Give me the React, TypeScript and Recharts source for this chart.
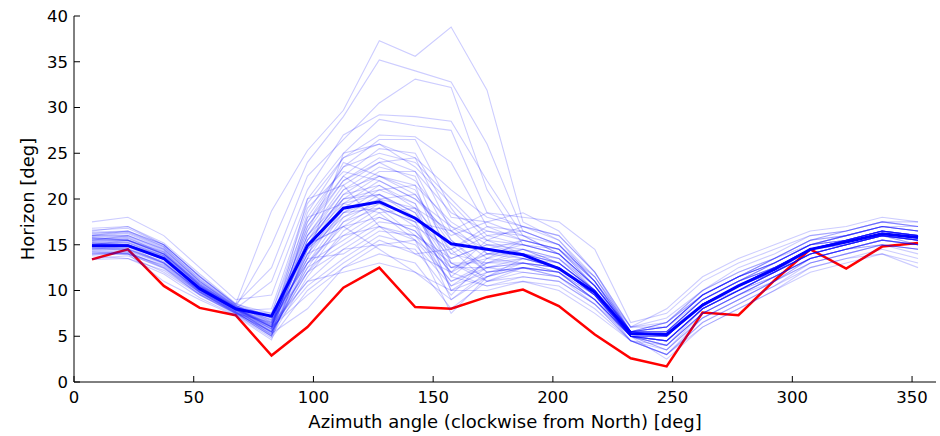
import React from 'react';
import { LineChart, Line, XAxis, YAxis, Label } from 'recharts';

// azimuth bin centres, 15 deg wide
const AZIMUTH = [
  7.5, 22.5, 37.5, 52.5, 67.5, 82.5, 97.5, 112.5, 127.5, 142.5, 157.5, 172.5,
  187.5, 202.5, 217.5, 232.5, 247.5, 262.5, 277.5, 292.5, 307.5, 322.5, 337.5, 352.5,
];

// ensemble mean (thick blue)
const MEAN = [
  14.9, 14.9, 13.5, 10.2, 8.0, 7.2, 14.9, 19.0, 19.7, 17.9, 15.1, 14.5,
  13.9, 12.4, 9.8, 5.3, 5.2, 8.4, 10.5, 12.3, 14.5, 15.3, 16.2, 15.8,
];

// observed horizon (red)
const OBSERVED = [
  13.4, 14.5, 10.5, 8.1, 7.3, 2.9, 6.0, 10.3, 12.5, 8.2, 8.0, 9.3,
  10.1, 8.3, 5.2, 2.6, 1.7, 7.6, 7.3, 11.1, 14.5, 12.4, 14.8, 15.2,
];

// individual members (faint blue)
const ENSEMBLE = [
  [16.0, 16.5, 15.0, 11.5, 8.5, 18.7, 25.3, 29.7, 37.3, 35.6, 38.8, 31.9, 17.5, 15.5, 11.5, 5.5, 6.5, 9.5, 11.5, 13.0, 15.0, 16.0, 17.0, 16.5],
  [15.5, 16.0, 14.5, 11.0, 8.2, 15.0, 24.0, 29.0, 35.2, 34.0, 32.8, 26.0, 16.5, 15.0, 11.0, 5.0, 5.5, 9.0, 11.0, 13.0, 15.0, 15.5, 16.5, 16.0],
  [16.5, 17.0, 15.0, 11.5, 8.5, 12.5, 22.5, 26.5, 30.5, 33.1, 32.2, 21.0, 15.0, 14.0, 10.5, 5.5, 6.0, 9.5, 11.5, 13.5, 15.5, 16.0, 17.0, 16.5],
  [15.0, 15.5, 14.0, 10.5, 8.0, 11.0, 21.0, 27.0, 29.2, 29.0, 28.5, 22.0, 16.0, 14.0, 10.0, 5.0, 5.0, 8.5, 10.5, 12.5, 14.5, 15.5, 16.5, 16.0],
  [17.5, 18.0, 16.0, 12.5, 9.0, 9.5, 20.0, 25.0, 28.7, 28.0, 27.5, 18.5, 17.0, 16.0, 12.0, 6.0, 6.5, 10.0, 12.5, 14.0, 16.0, 16.5, 17.5, 17.5],
  [14.5, 14.5, 13.0, 10.0, 7.8, 8.0, 19.5, 24.5, 27.0, 26.8, 24.0, 17.0, 15.5, 14.5, 10.5, 5.5, 5.0, 8.5, 10.5, 12.0, 14.0, 15.0, 16.0, 15.5],
  [15.8, 15.5, 14.0, 10.5, 8.0, 7.5, 18.0, 23.5, 26.5, 26.5, 19.0, 14.0, 14.5, 13.0, 10.0, 5.0, 4.5, 8.0, 10.0, 12.0, 14.5, 15.5, 16.5, 16.0],
  [14.0, 14.0, 12.5, 9.5, 7.5, 6.5, 17.0, 22.5, 25.5, 25.0, 18.0, 17.5, 18.5, 16.5, 12.0, 6.0, 6.0, 9.0, 11.0, 12.5, 14.5, 15.0, 16.0, 15.0],
  [16.0, 16.0, 14.5, 11.0, 8.2, 7.0, 16.5, 22.0, 24.5, 23.0, 15.5, 12.0, 13.0, 12.0, 9.5, 5.0, 4.0, 7.5, 9.5, 11.5, 13.5, 14.5, 15.5, 15.0],
  [15.2, 15.0, 13.8, 10.2, 8.0, 6.0, 16.0, 21.5, 24.0, 24.5, 21.0, 18.0, 17.0, 15.5, 11.0, 5.5, 5.5, 8.5, 10.5, 12.5, 14.5, 15.5, 16.5, 16.0],
  [14.8, 14.5, 13.0, 9.8, 7.6, 5.5, 15.5, 21.0, 23.5, 22.5, 13.0, 11.0, 12.5, 11.5, 9.0, 5.0, 3.5, 7.0, 9.0, 11.0, 13.5, 14.5, 15.5, 15.0],
  [16.2, 16.5, 15.0, 11.5, 8.4, 6.5, 15.0, 20.5, 23.0, 23.0, 18.5, 16.5, 15.5, 14.5, 11.0, 6.0, 7.0, 10.0, 12.0, 13.5, 15.5, 16.0, 17.0, 17.0],
  [13.5, 13.8, 12.0, 9.5, 7.4, 5.0, 14.5, 20.0, 22.5, 21.5, 11.5, 10.5, 11.5, 11.0, 8.5, 4.5, 3.0, 6.5, 8.5, 10.5, 13.0, 14.0, 15.0, 14.5],
  [15.5, 15.5, 14.0, 10.8, 8.1, 6.0, 14.0, 19.5, 22.0, 20.0, 16.0, 17.5, 16.0, 14.0, 10.5, 5.5, 5.5, 9.0, 11.0, 12.5, 14.5, 15.5, 16.5, 16.0],
  [14.2, 14.0, 12.8, 9.8, 7.6, 5.2, 13.5, 19.0, 21.5, 19.5, 10.0, 12.5, 13.5, 12.5, 9.5, 5.0, 4.5, 8.0, 10.0, 12.0, 14.0, 15.0, 16.0, 15.5],
  [16.8, 17.0, 15.2, 11.8, 8.6, 7.0, 13.0, 18.5, 21.0, 21.5, 17.5, 15.0, 14.0, 13.0, 10.0, 5.5, 6.0, 9.5, 11.5, 13.5, 15.5, 16.5, 17.5, 17.0],
  [15.0, 15.0, 13.5, 10.3, 8.0, 5.8, 12.5, 18.0, 20.5, 18.5, 12.5, 13.5, 14.5, 13.5, 10.5, 5.5, 5.0, 8.5, 10.5, 12.0, 14.5, 15.5, 16.5, 16.0],
  [14.5, 14.8, 13.0, 10.0, 7.8, 5.5, 12.0, 17.5, 20.0, 20.5, 15.5, 12.5, 12.0, 11.5, 9.0, 5.0, 4.0, 7.5, 9.5, 11.5, 13.5, 14.5, 15.5, 15.0],
  [15.7, 15.5, 14.2, 10.7, 8.2, 6.8, 15.0, 17.0, 19.5, 18.0, 14.0, 16.0, 16.5, 15.0, 11.0, 5.5, 5.5, 9.0, 11.0, 13.0, 15.0, 16.0, 17.0, 16.5],
  [13.8, 13.5, 12.2, 9.6, 7.5, 5.0, 11.5, 16.5, 19.0, 17.5, 9.0, 11.5, 13.0, 12.5, 9.5, 4.5, 3.0, 7.0, 9.0, 11.0, 13.0, 14.0, 15.0, 14.0],
  [15.3, 15.2, 13.8, 10.4, 8.0, 6.2, 14.0, 16.0, 18.5, 19.0, 16.5, 14.5, 13.5, 12.5, 10.0, 5.5, 5.0, 8.5, 10.5, 12.5, 14.5, 15.5, 16.5, 16.0],
  [16.4, 16.5, 14.8, 11.2, 8.3, 7.2, 13.0, 15.5, 18.0, 16.5, 12.0, 14.0, 15.0, 14.0, 10.5, 5.5, 6.5, 9.5, 11.5, 13.0, 15.0, 16.0, 17.0, 16.5],
  [14.0, 14.2, 12.5, 9.8, 7.5, 5.5, 12.5, 15.0, 17.5, 17.0, 14.5, 11.0, 11.5, 11.0, 8.5, 5.0, 4.5, 8.0, 10.0, 11.5, 13.5, 14.5, 15.5, 15.0],
  [15.0, 15.0, 13.6, 10.2, 7.9, 6.0, 11.0, 14.5, 17.0, 15.5, 11.0, 13.0, 14.0, 13.5, 10.0, 5.5, 5.5, 9.0, 11.0, 12.5, 14.5, 15.0, 16.0, 15.5],
  [15.6, 15.8, 14.0, 10.6, 8.1, 6.5, 13.5, 14.0, 16.5, 16.0, 13.5, 15.0, 14.5, 13.0, 10.0, 5.0, 5.0, 8.5, 10.0, 12.0, 14.0, 15.0, 16.0, 15.5],
  [14.6, 14.5, 13.2, 10.0, 7.7, 5.8, 10.5, 13.5, 16.0, 15.0, 10.5, 12.0, 12.5, 12.0, 9.0, 4.5, 4.0, 7.5, 9.5, 11.0, 13.5, 14.5, 15.0, 14.5],
  [13.4, 13.5, 11.8, 9.2, 7.3, 4.8, 10.0, 13.0, 15.5, 14.0, 12.0, 10.5, 11.0, 10.5, 8.0, 4.5, 3.0, 6.0, 8.0, 10.0, 12.5, 13.5, 14.5, 13.5],
  [16.0, 16.2, 14.6, 11.0, 8.3, 6.8, 12.0, 14.5, 15.0, 14.5, 9.5, 13.5, 15.5, 14.5, 11.0, 5.5, 6.0, 9.5, 11.5, 13.0, 15.0, 16.0, 17.0, 16.5],
  [14.9, 14.8, 13.4, 10.1, 7.9, 6.0, 9.5, 12.5, 14.0, 13.0, 8.0, 11.0, 12.0, 11.5, 9.0, 5.0, 4.5, 8.0, 10.0, 11.5, 13.5, 14.5, 15.5, 15.0],
  [15.4, 15.5, 13.9, 10.5, 8.0, 6.3, 11.0, 12.0, 13.0, 12.0, 10.0, 10.0, 11.0, 10.0, 7.5, 4.5, 3.5, 7.0, 9.0, 11.0, 13.0, 14.0, 15.0, 14.5],
  [14.3, 14.2, 12.6, 9.7, 7.6, 5.3, 8.0, 12.5, 15.0, 15.5, 7.5, 11.5, 13.5, 13.0, 10.0, 5.5, 5.0, 8.5, 10.5, 12.0, 14.0, 15.0, 16.0, 15.5],
  [15.9, 16.0, 14.4, 10.9, 8.2, 6.6, 14.5, 18.5, 19.0, 16.0, 11.0, 12.5, 13.0, 12.0, 9.5, 5.0, 4.5, 8.0, 10.0, 12.0, 14.0, 15.0, 16.0, 15.5],
  [15.1, 15.3, 13.7, 10.3, 8.0, 6.1, 16.0, 20.0, 21.0, 19.5, 13.0, 11.5, 12.5, 12.0, 9.0, 5.0, 4.0, 8.0, 10.0, 12.0, 14.0, 15.0, 16.0, 15.0],
  [14.7, 14.6, 13.1, 9.9, 7.7, 5.6, 17.5, 22.5, 20.0, 17.5, 16.5, 18.5, 18.0, 17.5, 14.5, 6.5, 7.5, 11.0, 13.0, 14.5, 16.0, 16.5, 17.5, 17.0],
  [16.6, 16.8, 15.0, 11.6, 8.5, 7.5, 19.0, 23.0, 22.0, 20.0, 17.0, 15.5, 15.0, 14.5, 11.5, 6.0, 8.0, 11.5, 13.5, 15.0, 16.5, 17.0, 18.0, 17.5],
  [14.1, 14.0, 12.4, 9.6, 7.5, 5.0, 18.0, 19.5, 18.5, 15.5, 12.5, 14.0, 13.5, 12.5, 9.5, 5.0, 2.5, 6.0, 8.0, 10.0, 12.0, 13.0, 14.0, 13.0],
  [15.2, 15.0, 13.5, 10.2, 7.9, 5.8, 20.0, 21.5, 17.0, 14.0, 14.5, 16.5, 16.0, 15.0, 11.5, 5.5, 6.0, 9.5, 11.5, 13.0, 15.0, 15.5, 16.5, 16.0],
  [13.9, 14.0, 11.0, 9.0, 7.2, 4.6, 15.0, 17.0, 14.5, 12.0, 9.0, 12.0, 12.5, 11.5, 8.5, 4.5, 3.0, 6.5, 8.5, 10.5, 12.5, 13.5, 14.0, 12.5],
  [15.8, 15.9, 14.3, 10.8, 8.1, 6.4, 13.5, 25.0, 26.0, 23.5, 19.5, 15.5, 14.0, 13.0, 10.0, 5.0, 5.0, 8.5, 10.5, 12.5, 14.5, 15.5, 16.5, 16.0],
  [15.0, 15.2, 13.6, 10.4, 8.0, 6.0, 16.5, 24.0, 22.5, 21.0, 14.0, 13.0, 13.0, 12.5, 9.5, 5.0, 4.5, 8.0, 10.0, 12.0, 14.0, 15.0, 16.0, 15.5],
  [15.1, 15.0, 13.4, 10.1, 7.9, 5.4, 14.5, 18.0, 19.5, 17.0, 10.5, 13.0, 14.5, 13.5, 10.0, 5.0, 5.0, 8.5, 10.5, 12.5, 14.5, 15.5, 16.5, 16.0],
  [14.4, 14.3, 12.9, 9.9, 7.7, 5.1, 13.0, 17.0, 18.0, 16.5, 12.0, 15.5, 17.0, 16.0, 12.0, 5.5, 6.5, 10.0, 12.0, 13.5, 15.0, 15.5, 16.5, 15.5],
  [16.1, 16.3, 14.7, 11.1, 8.3, 6.7, 16.0, 21.0, 22.5, 20.5, 15.0, 12.0, 12.5, 12.0, 9.0, 5.0, 4.5, 8.0, 10.0, 12.0, 14.0, 15.0, 16.0, 15.5],
  [15.5, 15.6, 14.1, 10.6, 8.1, 6.2, 15.5, 19.5, 20.5, 18.5, 11.5, 14.5, 15.5, 14.5, 10.5, 5.5, 5.5, 9.0, 11.0, 12.5, 14.5, 15.5, 16.5, 16.0],
  [14.9, 15.0, 13.5, 10.2, 7.9, 5.5, 12.0, 16.0, 17.0, 16.0, 13.0, 13.0, 13.5, 12.5, 9.5, 5.0, 4.5, 8.0, 10.0, 12.0, 14.0, 15.0, 16.0, 15.5],
  [15.7, 15.7, 14.2, 10.7, 8.1, 6.3, 17.0, 22.0, 24.0, 22.0, 17.0, 14.0, 14.0, 13.0, 10.0, 5.5, 5.5, 9.0, 11.0, 13.0, 15.0, 16.0, 17.0, 16.5],
  [14.6, 14.4, 13.0, 9.9, 7.7, 5.4, 14.0, 18.5, 20.0, 19.0, 10.0, 11.5, 12.5, 12.0, 9.0, 5.0, 3.5, 7.5, 9.5, 11.5, 13.5, 14.5, 15.5, 15.0],
  [15.3, 15.4, 13.8, 10.4, 8.0, 5.9, 15.0, 20.5, 21.5, 19.0, 14.5, 17.0, 16.5, 15.0, 11.0, 5.5, 6.0, 9.5, 11.5, 13.0, 15.0, 15.5, 16.5, 16.0],
  [16.3, 16.4, 14.8, 11.3, 8.4, 7.0, 17.5, 23.5, 25.0, 24.0, 20.0, 16.0, 15.0, 14.0, 10.5, 5.5, 6.0, 9.5, 11.5, 13.5, 15.5, 16.5, 17.5, 17.0],
  [14.2, 14.1, 12.7, 9.8, 7.6, 5.2, 13.0, 17.5, 19.0, 17.5, 12.5, 12.5, 13.0, 12.5, 9.5, 5.0, 4.0, 7.5, 9.5, 11.5, 13.5, 14.5, 15.0, 14.5],
  [15.0, 14.9, 13.4, 10.1, 7.9, 5.7, 15.5, 20.0, 20.5, 18.0, 13.5, 15.0, 15.0, 14.0, 10.5, 5.0, 5.0, 8.5, 10.5, 12.5, 14.5, 15.5, 16.0, 15.5],
  [15.6, 15.5, 14.0, 10.6, 8.1, 6.1, 18.5, 24.5, 26.0, 24.5, 16.5, 13.5, 13.0, 12.5, 9.5, 5.0, 4.5, 8.0, 10.0, 12.0, 14.0, 15.0, 16.0, 15.5],
];

const X_TICKS = [0, 50, 100, 150, 200, 250, 300, 350];
const Y_TICKS = [0, 5, 10, 15, 20, 25, 30, 35, 40];

const data = AZIMUTH.map((az, i) => {
  const row: Record<string, number> = { az, mean: MEAN[i], obs: OBSERVED[i] };
  ENSEMBLE.forEach((member, k) => {
    row[`m${k}`] = member[i];
  });
  return row;
});

const font = 'DejaVu Sans, Bitstream Vera Sans, sans-serif';
const tickStyle = { fontFamily: font, fontSize: 16.5, fill: '#000' };
const axisLine = { stroke: '#000', strokeWidth: 1 };
const noLabel = () => '';

export default function App() {
  return (
    <div style={{ position: 'absolute', left: 0, top: 0, background: '#fff' }}>
      <LineChart
        width={940}
        height={436}
        data={data}
        margin={{ top: 16, right: 4, left: 0, bottom: 0 }}
      >
        <XAxis
          dataKey="az"
          type="number"
          domain={[0, 360]}
          ticks={X_TICKS}
          interval={0}
          height={54}
          tickSize={-6}
          tickMargin={15.3}
          tick={tickStyle}
          axisLine={axisLine}
          tickLine={{ stroke: '#000' }}
        >
          <Label
            content={() => (
              <text x={505} y={427.7} textAnchor="middle" fontFamily={font} fontSize={18} fill="#000">
                Azimuth angle (clockwise from North) [deg]
              </text>
            )}
          />
        </XAxis>
        <XAxis
          xAxisId="top"
          orientation="top"
          dataKey="az"
          type="number"
          domain={[0, 360]}
          ticks={X_TICKS}
          interval={0}
          height={0}
          tickSize={-6}
          tickFormatter={noLabel}
          axisLine={axisLine}
          tickLine={{ stroke: '#000' }}
        />
        <YAxis
          type="number"
          domain={[0, 40]}
          ticks={Y_TICKS}
          interval={0}
          width={74}
          tickSize={-6}
          tickMargin={12}
          tick={tickStyle}
          axisLine={axisLine}
          tickLine={{ stroke: '#000' }}
        >
          <Label
            content={() => (
              <text
                transform="translate(33.5,199) rotate(-90)"
                textAnchor="middle"
                fontFamily={font}
                fontSize={18}
                fill="#000"
              >
                Horizon [deg]
              </text>
            )}
          />
        </YAxis>
        <YAxis
          yAxisId="right"
          orientation="right"
          type="number"
          domain={[0, 40]}
          ticks={Y_TICKS}
          interval={0}
          width={0}
          tickSize={-6}
          tickFormatter={noLabel}
          axisLine={axisLine}
          tickLine={{ stroke: '#000' }}
        />
        <Line
          dataKey="obs"
          type="linear"
          stroke="#ff0000"
          strokeWidth={2.5}
          dot={false}
          activeDot={false}
          isAnimationActive={false}
        />
        {ENSEMBLE.map((_, k) => (
          <Line
            key={k}
            dataKey={`m${k}`}
            type="linear"
            stroke="#0000ff"
            strokeOpacity={0.2}
            strokeWidth={1.1}
            dot={false}
            activeDot={false}
            isAnimationActive={false}
          />
        ))}
        <Line
          dataKey="mean"
          type="linear"
          stroke="#0000ff"
          strokeWidth={3}
          dot={false}
          activeDot={false}
          isAnimationActive={false}
        />
      </LineChart>
    </div>
  );
}
